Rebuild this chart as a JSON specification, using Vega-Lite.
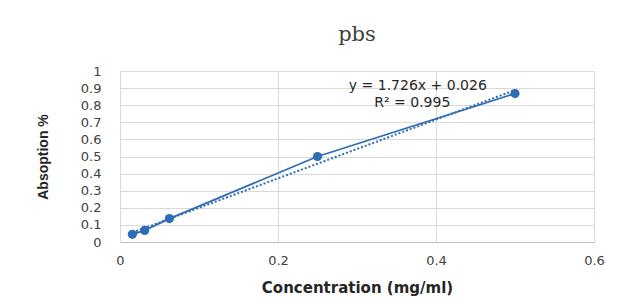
{
  "$schema": "https://vega.github.io/schema/vega-lite/v6.json",
  "width": 474,
  "height": 171,
  "autosize": {"type": "none"},
  "padding": {"left": 120, "top": 71, "right": 37, "bottom": 58},
  "background": "white",
  "title": {"text": "pbs", "font": "DejaVu Serif", "fontSize": 21, "fontWeight": "normal", "color": "#404040", "offset": 20, "anchor": "middle"},
  "config": {"view": {"stroke": null}},
  "data": {"values": [
    {"c": 0.015625, "a": 0.045},
    {"c": 0.03125, "a": 0.068},
    {"c": 0.0625, "a": 0.137},
    {"c": 0.25, "a": 0.5},
    {"c": 0.5, "a": 0.868}
  ]},
  "encoding": {
    "x": {"field": "c", "type": "quantitative", "scale": {"domain": [0, 0.6]},
      "axis": {"values": [0, 0.2, 0.4, 0.6], "format": "~g", "title": "Concentration (mg/ml)", "titleFont": "DejaVu Sans", "titleFontSize": 15, "titleFontWeight": "bold", "titleColor": "#262626", "titlePadding": 13, "labelFont": "DejaVu Sans", "labelFontSize": 13, "labelColor": "#404040", "labelPadding": 12, "ticks": false, "domainColor": "#bfbfbf", "gridColor": "#d9d9d9", "labelFlush": false}},
    "y": {"field": "a", "type": "quantitative", "scale": {"domain": [0, 1]},
      "axis": {"values": [0, 0.1, 0.2, 0.3, 0.4, 0.5, 0.6, 0.7, 0.8, 0.9, 1], "format": "~g", "title": "Absoption %", "titleFont": "Liberation Sans", "titleFontSize": 14, "titleFontWeight": "bold", "titleColor": "#262626", "titlePadding": 30, "labelFont": "DejaVu Sans", "labelFontSize": 13, "labelColor": "#404040", "labelPadding": 19, "ticks": false, "domain": false, "gridColor": "#d9d9d9"}}
  },
  "layer": [
    {"mark": {"type": "line", "color": "#2E6DB4", "strokeWidth": 1.8}},
    {"mark": {"type": "circle", "color": "#2E6DB4", "size": 85, "opacity": 1}},
    {"transform": [{"regression": "a", "on": "c", "extent": [0.015625, 0.5]}],
     "mark": {"type": "line", "color": "#2E6DB4", "strokeWidth": 2, "strokeDash": [2, 2]}},
    {"data": {"values": [
      {"c": 0.377, "a": 0.91, "t": "y = 1.726x + 0.026"},
      {"c": 0.37, "a": 0.81, "t": "R² = 0.995"}
    ]},
     "mark": {"type": "text", "font": "DejaVu Sans", "fontSize": 14, "color": "#262626", "align": "center", "baseline": "middle"},
     "encoding": {"text": {"field": "t"}}}
  ]
}
